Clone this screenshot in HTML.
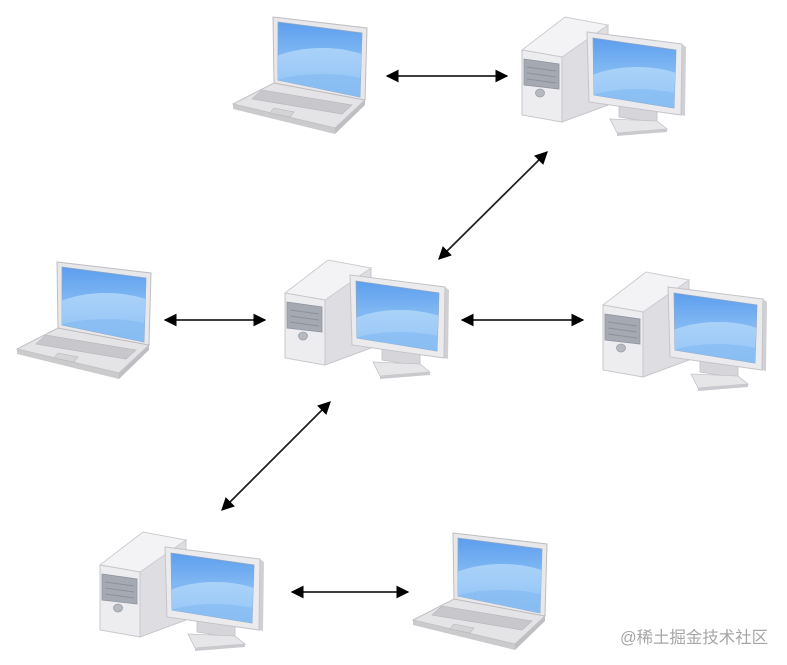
<!DOCTYPE html>
<html><head><meta charset="utf-8"><style>
html,body{margin:0;padding:0;background:#fff;width:787px;height:665px;overflow:hidden}
svg{display:block}
</style></head><body>
<svg width="787" height="665" viewBox="0 0 787 665" xmlns="http://www.w3.org/2000/svg">
<defs>
  <linearGradient id="scr" x1="0" y1="0" x2="0" y2="1">
    <stop offset="0" stop-color="#5c9ded"/>
    <stop offset="0.45" stop-color="#80b8f3"/>
    <stop offset="1" stop-color="#88bff5"/>
  </linearGradient>
  <linearGradient id="scr2" x1="0" y1="0" x2="0" y2="1">
    <stop offset="0" stop-color="#b2d7fa"/>
    <stop offset="1" stop-color="#82baf3"/>
  </linearGradient>
  <clipPath id="dclip"><polygon points="86,31 169,43 167,101 87,88"/></clipPath>
  <clipPath id="lclip"><polygon points="48,12 132,23 130,87 48,70"/></clipPath>
  <marker id="ah" viewBox="0 0 10 10" refX="9" refY="5" markerWidth="13" markerHeight="13" markerUnits="userSpaceOnUse" orient="auto-start-reverse">
    <path d="M0,0 L10,5 L0,10 z" fill="#000"/>
  </marker>

  <g id="desk">
    <!-- tower -->
    <polygon points="55,50 101,18 101,98 55,115" fill="#dedee2" stroke="#c8c8cc" stroke-width="1"/>
    <polygon points="15,43 58,10 101,18 55,50" fill="#f3f3f5" stroke="#cdcdd1" stroke-width="1"/>
    <polygon points="15,43 55,50 55,115 15,108" fill="#ededf0" stroke="#c8c8cc" stroke-width="1"/>
    <polygon points="17,52 52,57 52,82 17,78" fill="#a4a9b2" stroke="#90959e" stroke-width="0.8"/>
    <line x1="20" y1="60" x2="49" y2="64" stroke="#8c919a" stroke-width="1"/>
    <line x1="20" y1="66" x2="49" y2="70" stroke="#8c919a" stroke-width="1"/>
    <line x1="20" y1="72" x2="49" y2="76" stroke="#8c919a" stroke-width="1"/>
    <ellipse cx="33" cy="86" rx="4.5" ry="4" fill="#b6bac0" stroke="#9ca0a7" stroke-width="0.8"/>
    <!-- stand -->
    <polygon points="112,98 150,104 150,116 112,110" fill="#d6d6da" stroke="#c2c2c6" stroke-width="0.8"/>
    <polygon points="103,112 150,114 160,122 110,126" fill="#e6e6e9" stroke="#c4c4c8" stroke-width="0.8"/>
    <polygon points="110,126 160,122 160,125 110,129" fill="#cacace"/>
    <!-- monitor -->
    <polygon points="175,37 179,40 178,109 174,108" fill="#d0d0d4"/>
    <polygon points="80,25 175,37 174,108 82,95" fill="#ebebee" stroke="#c5c5c9" stroke-width="1"/>
    <polygon points="86,31 169,43 167,101 87,88" fill="url(#scr)" stroke="#8ea7c6" stroke-width="0.8"/>
    <g clip-path="url(#dclip)">
      <ellipse cx="130" cy="95" rx="70" ry="35" fill="url(#scr2)" opacity="0.85"/>
      <ellipse cx="130" cy="112" rx="75" ry="30" fill="#82b9f2" opacity="0.6"/>
    </g>
  </g>

  <g id="lap">
    <!-- base -->
    <polygon points="3,94 105,118 105,124 3,99" fill="#cbcbce"/>
    <polygon points="105,118 135,90 135,95 105,124" fill="#bfbfc3"/>
    <polygon points="44,73 135,90 105,118 3,94" fill="#e4e4e7" stroke="#c2c2c6" stroke-width="1"/>
    <polygon points="32,80 122,95 112,104 22,89" fill="#c8c8cc" stroke="#b6b6ba" stroke-width="0.6"/>
    <polygon points="44,98 64,102 60,107 40,103" fill="#d4d4d7" stroke="#b8b8bc" stroke-width="0.6"/>
    <!-- lid -->
    <polygon points="43,7 137,18 135,90 44,73" fill="#e8e8eb" stroke="#bebec2" stroke-width="1"/>
    <polygon points="48,12 132,23 130,87 48,70" fill="url(#scr)" stroke="#8ea7c6" stroke-width="0.8"/>
    <g clip-path="url(#lclip)">
      <ellipse cx="92" cy="72" rx="70" ry="34" fill="url(#scr2)" opacity="0.85"/>
      <ellipse cx="92" cy="92" rx="75" ry="28" fill="#82b9f2" opacity="0.6"/>
    </g>
  </g>
</defs>

<!-- computers -->
<use href="#lap" transform="translate(230,10)"/>
<use href="#desk" transform="translate(507,7)"/>
<use href="#lap" transform="translate(14,255)"/>
<use href="#desk" transform="translate(270,250)"/>
<use href="#desk" transform="translate(588,262)"/>
<use href="#desk" transform="translate(85,522)"/>
<use href="#lap" transform="translate(410,526)"/>

<!-- arrows -->
<g stroke="#222" stroke-width="1.8" fill="none">
  <line x1="387" y1="76" x2="507" y2="76" marker-start="url(#ah)" marker-end="url(#ah)"/>
  <line x1="547" y1="152" x2="439" y2="259" marker-start="url(#ah)" marker-end="url(#ah)"/>
  <line x1="165" y1="320" x2="265" y2="320" marker-start="url(#ah)" marker-end="url(#ah)"/>
  <line x1="462" y1="320" x2="583" y2="320" marker-start="url(#ah)" marker-end="url(#ah)"/>
  <line x1="330" y1="402" x2="222" y2="510" marker-start="url(#ah)" marker-end="url(#ah)"/>
  <line x1="292" y1="592" x2="408" y2="592" marker-start="url(#ah)" marker-end="url(#ah)"/>
</g>

<text x="620" y="643" textLength="148" lengthAdjust="spacingAndGlyphs" font-family="'Liberation Sans','Noto Sans CJK SC',sans-serif" font-size="16.5" fill="#a6a6a6">@稀土掘金技术社区</text>
</svg>
</body></html>
